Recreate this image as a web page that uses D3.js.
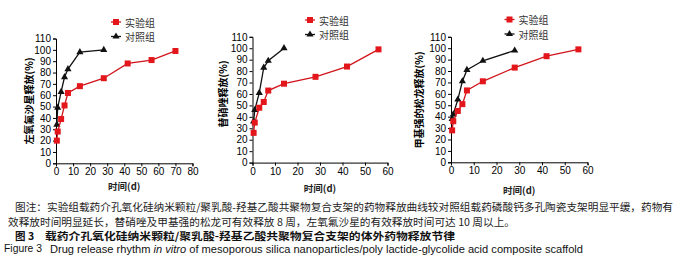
<!DOCTYPE html>
<html><head><meta charset="utf-8">
<script src="https://cdn.jsdelivr.net/npm/d3@7"></script>
<style>body{margin:0;background:#fff}svg{display:block}</style>
</head><body>
<svg id="c" width="693" height="273"></svg>
<script>
// ---- data ----
const legendLabels = ["实验组", "对照组"];
const xTitle = "时间(d)";
const yTitles = ["左氧氟沙星释放(%)", "替硝唑释放(%)", "甲基强的松龙释放(%)"];
const yTicks = [0,10,20,30,40,50,60,70,80,90,100,110];
const xTicks1 = [0,10,20,30,40,50,60,70,80];
const xTicks23 = [0,10,20,30,40,50,60];

const daysExp1 = [0.5,1,3,5,7,14,28,42,56,70];
const levoExp = [20,28,39,51,62,68,75,88,91,99];
const daysCtl1 = [0.5,1,3,5,7,14,28];
const levoCtl = [34,49,63,76,83,98,100];

const daysExp2 = [0.5,1,3,5,7,14,28,42,56];
const tiniExp = [26,35,48,53,63,69,75,84,99];
const daysCtl2 = [0.5,1,3,5,7,14];
const tiniCtl = [36,46,61,83,89,100];

const daysExp3 = [0.5,1,3,5,7,14,28,42,56];
const mpExp = [28,36,45,51,63,71,83,93,99];
const daysCtl3 = [0.5,1,3,5,7,14,28];
const mpCtl = [38,42,55,71,81,89,98];

const captionLines = [
 "图注：实验组载药介孔氧化硅纳米颗粒/聚乳酸-羟基乙酸共聚物复合支架的药物释放曲线较对照组载药磷酸钙多孔陶瓷支架明显平缓，药物有",
 "效释放时间明显延长，替硝唑及甲基强的松龙可有效释放 8 周，左氧氟沙星的有效释放时间可达 10 周以上。"
];
const figLabelCn = "图 3";
const figTitleCn = "载药介孔氧化硅纳米颗粒/聚乳酸-羟基乙酸共聚物复合支架的体外药物释放节律";
const figLabelEn = "Figure 3";
const figTitleEnParts = ["Drug release rhythm ", "in vitro", " of mesoporous silica nanoparticles/poly lactide-glycolide acid composite scaffold"];

// ---- drawing ----
const svg = d3.select("#c");
svg.append("rect").attr("width",693).attr("height",273).attr("fill","#fff");
const RED = "#e3161c", REDL = "#d0141a", BLK = "#111";
const tickFont = "'Liberation Sans', Arial, sans-serif";
const cjk = "'Noto Sans CJK SC', sans-serif";

const panels = [
 {x0:56, x1:192.5, yb:163.3, yt:38.5, xmax:80, xt:xTicks1, title:yTitles[0], tx:28, ty:101,
  ex:daysExp1, ey:levoExp, cx:daysCtl1, cy:levoCtl, lgx:116, lgy:22, xtY:186},
 {x0:252.5, x1:387.5, yb:162.6, yt:36.8, xmax:60, xt:xTicks23, title:yTitles[1], tx:222, ty:94,
  ex:daysExp2, ey:tiniExp, cx:daysCtl2, cy:tiniCtl, lgx:310, lgy:20, xtY:188},
 {x0:451, x1:587.5, yb:162.3, yt:36.8, xmax:60, xt:xTicks23, title:yTitles[2], tx:418, ty:100,
  ex:daysExp3, ey:mpExp, cx:daysCtl3, cy:mpCtl, lgx:509.5, lgy:19.5, xtY:189.5}
];

panels.forEach(p => {
  const x = d3.scaleLinear().domain([0,p.xmax]).range([p.x0,p.x1]);
  const y = d3.scaleLinear().domain([0,110]).range([p.yb,p.yt]);
  const g = svg.append("g");

  const ax = g.append("g").attr("transform",`translate(0,${p.yb})`)
    .call(d3.axisBottom(x).tickValues(p.xt).tickSize(3).tickPadding(2).tickFormat(d3.format("d")));
  const ay = g.append("g").attr("transform",`translate(${p.x0},0)`)
    .call(d3.axisLeft(y).tickValues(yTicks).tickSize(3).tickPadding(2).tickFormat(d3.format("d")));
  [ax,ay].forEach(a=>{
    a.selectAll("path,line").attr("stroke","#000").attr("stroke-width",1);
    a.selectAll("text").attr("font-family",tickFont).attr("font-size","10px").attr("fill","#000");
  });

  // axis titles
  g.append("text").attr("transform",`translate(${p.tx},${p.ty}) rotate(-90)`)
    .attr("text-anchor","middle").attr("dominant-baseline","central")
    .attr("font-family",cjk).attr("font-weight","bold").attr("font-size","10px").text(p.title);
  g.append("text").attr("x",(p.x0+p.x1)/2).attr("y",p.xtY)
    .attr("text-anchor","middle").attr("dominant-baseline","central")
    .attr("font-family",cjk).attr("font-weight","bold").attr("font-size","9.5px").attr("fill","#222").text(xTitle);

  const line = d3.line().x(d=>x(d[0])).y(d=>y(d[1]));
  const ctl = p.cx.map((d,i)=>[d,p.cy[i]]);
  const exp = p.ex.map((d,i)=>[d,p.ey[i]]);
  g.append("path").datum(ctl).attr("d",line).attr("fill","none").attr("stroke",BLK).attr("stroke-width",1.3);
  const tri = d3.symbol().type(d3.symbolTriangle).size(22);
  g.selectAll(".tri").data(ctl).join("path").attr("d",tri)
    .attr("transform",d=>`translate(${x(d[0])},${y(d[1])})`).attr("fill",BLK);
  g.append("path").datum(exp).attr("d",line).attr("fill","none").attr("stroke",REDL).attr("stroke-width",1.3);
  g.selectAll(".sq").data(exp).join("rect")
    .attr("x",d=>x(d[0])-3).attr("y",d=>y(d[1])-3).attr("width",6).attr("height",6).attr("fill",RED);

  // legend
  [[RED,"sq"],[BLK,"tri"]].forEach((s,i)=>{
    const ly = p.lgy + i*14.5;
    g.append("line").attr("x1",p.lgx-5).attr("x2",p.lgx+5).attr("y1",ly).attr("y2",ly)
      .attr("stroke", i? BLK:REDL).attr("stroke-width",1.3);
    if(s[1]==="sq") g.append("rect").attr("x",p.lgx-3).attr("y",ly-3).attr("width",6).attr("height",6).attr("fill",RED);
    else g.append("path").attr("d",tri).attr("transform",`translate(${p.lgx},${ly})`).attr("fill",BLK);
    g.append("text").attr("x",p.lgx+9).attr("y",ly).attr("dominant-baseline","central")
      .attr("font-family","'Noto Sans CJK SC', sans-serif").attr("font-size","10px").attr("fill","#333").text(legendLabels[i]);
  });
});

// caption
svg.append("text").attr("x",15).attr("y",206.5).attr("dominant-baseline","central")
  .attr("font-family",cjk).attr("font-size","10.5px").attr("fill","#222")
  .attr("textLength",658).attr("lengthAdjust","spacingAndGlyphs").text(captionLines[0]);
svg.append("text").attr("x",8).attr("y",221).attr("dominant-baseline","central")
  .attr("font-family",cjk).attr("font-size","10.5px").attr("fill","#222")
  .attr("textLength",507).attr("lengthAdjust","spacingAndGlyphs").text(captionLines[1]);
svg.append("text").attr("x",15).attr("y",235).attr("dominant-baseline","central")
  .attr("font-family",cjk).attr("font-weight","bold").attr("font-size","10.5px").attr("fill","#111").text(figLabelCn);
svg.append("text").attr("x",45).attr("y",235).attr("dominant-baseline","central")
  .attr("font-family",cjk).attr("font-weight","bold").attr("font-size","10.5px").attr("fill","#111")
  .attr("textLength",410).attr("lengthAdjust","spacingAndGlyphs").text(figTitleCn);
svg.append("text").attr("x",4).attr("y",248.5).attr("dominant-baseline","central")
  .attr("font-family",tickFont).attr("font-size","10px").attr("fill","#111")
  .attr("textLength",38).attr("lengthAdjust","spacingAndGlyphs").text(figLabelEn);
const en = svg.append("text").attr("x",50).attr("y",248.5).attr("dominant-baseline","central")
  .attr("font-family",tickFont).attr("font-size","10px").attr("fill","#111")
  .attr("textLength",533).attr("lengthAdjust","spacingAndGlyphs");
figTitleEnParts.forEach((t,i)=>en.append("tspan").attr("font-style", i===1?"italic":"normal").text(t));
</script>
</body></html>
